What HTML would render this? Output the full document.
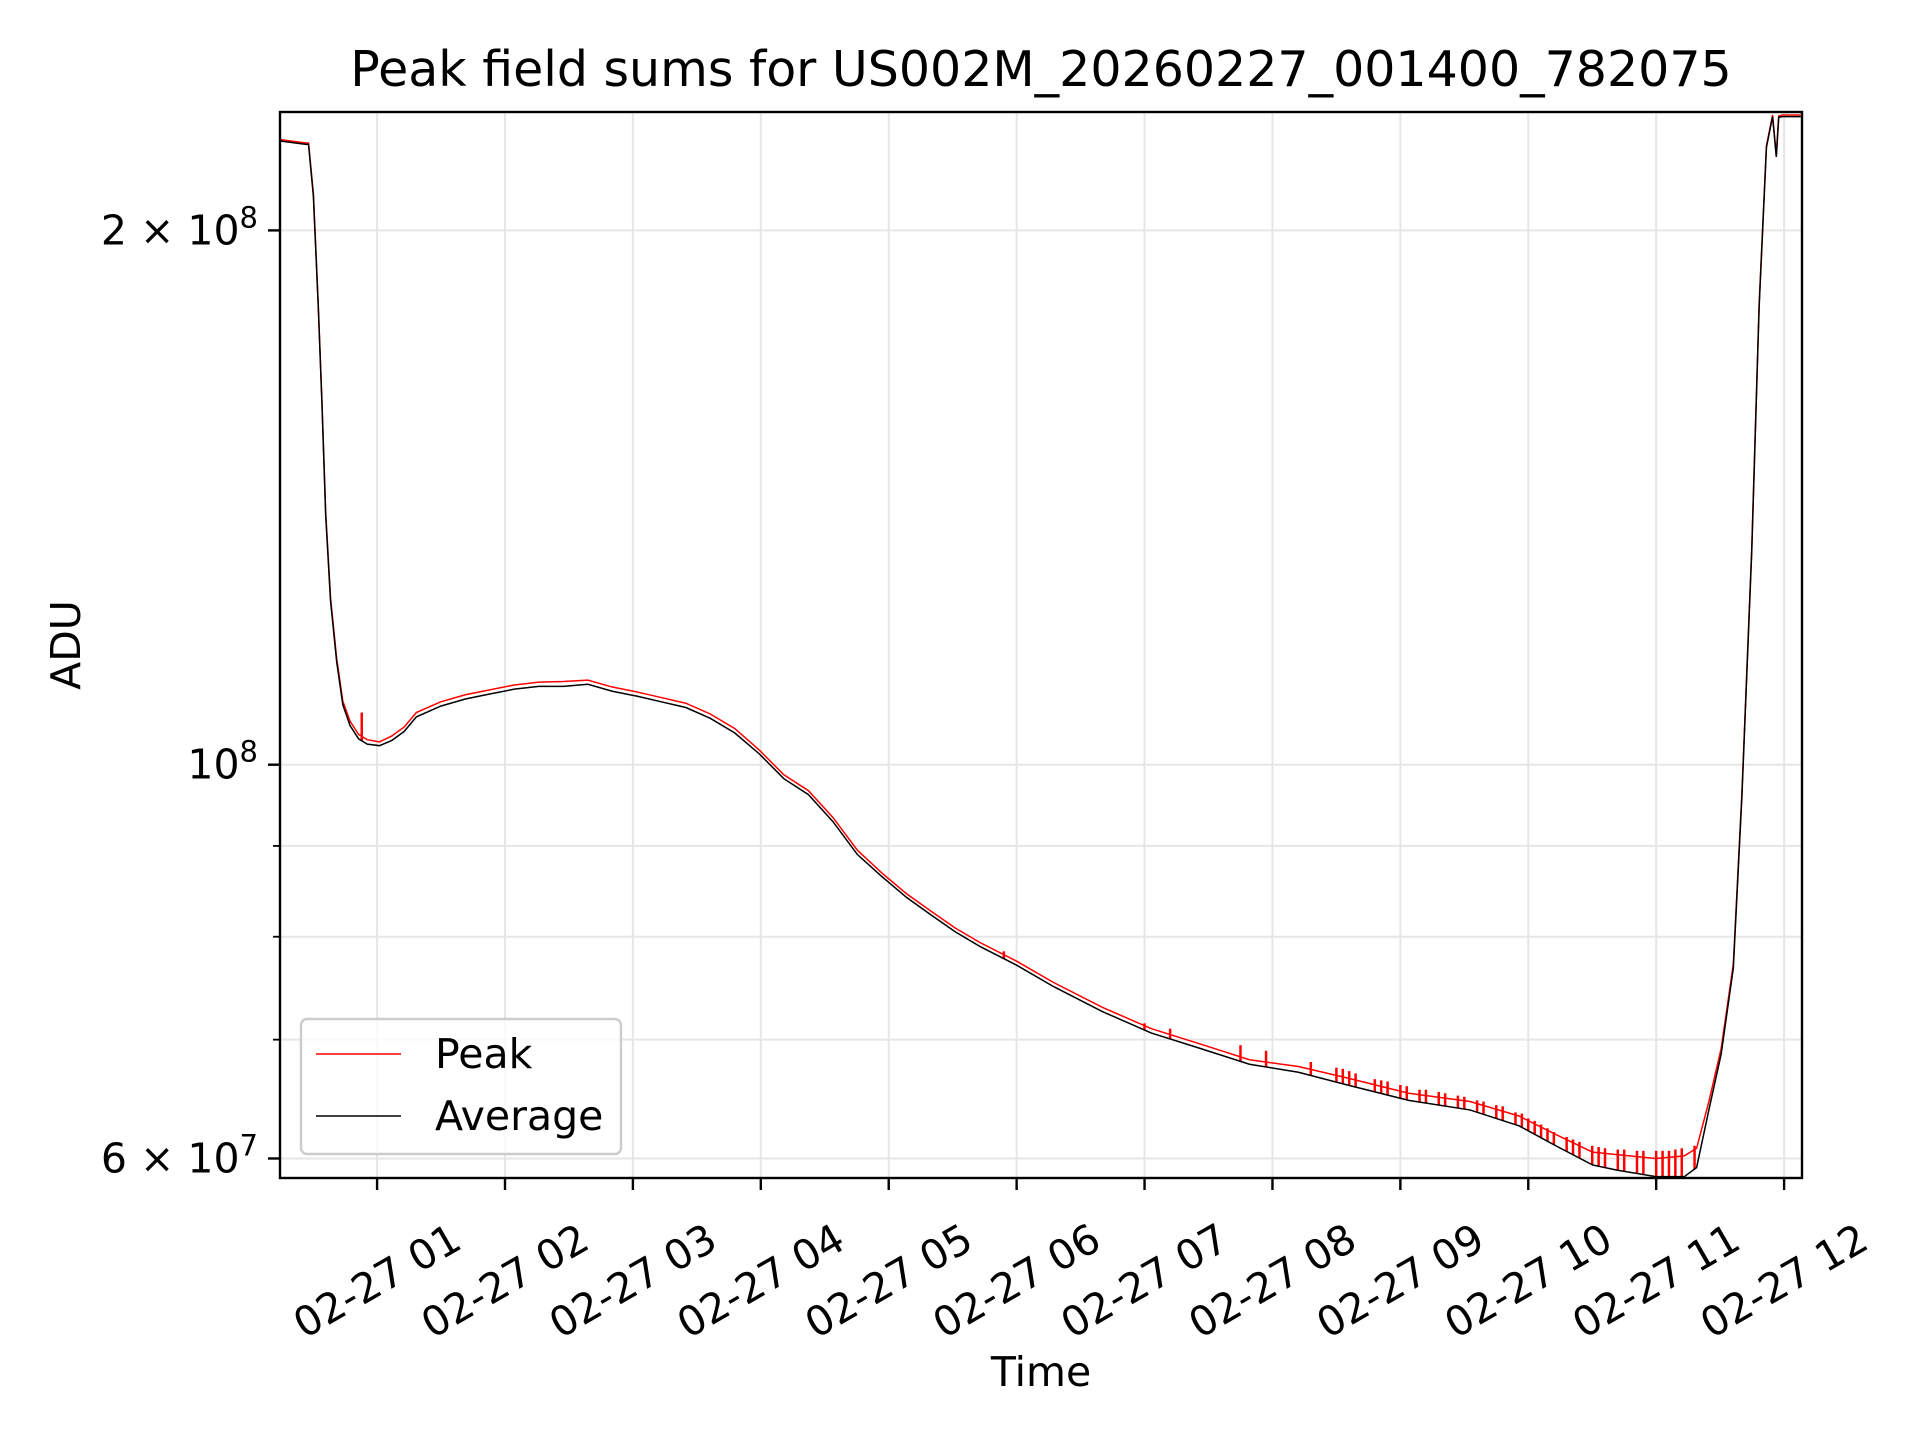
<!DOCTYPE html>
<html><head><meta charset="utf-8"><style>
html,body{margin:0;padding:0;background:#fff}
svg{display:block}
text{font-family:"DejaVu Sans","Liberation Sans",sans-serif;fill:#000}
</style></head><body>
<svg id="chart" width="1920" height="1440" viewBox="0 0 1920 1440">
<rect x="0" y="0" width="1920" height="1440" fill="#fff"/>
<text x="1041" y="86" font-size="49" text-anchor="middle">Peak field sums for US002M_20260227_001400_782075</text>
<g id="grid"></g>
<g id="series"></g>
<rect x="280" y="112" width="1522" height="1066" fill="none" stroke="#000" stroke-width="2.4"/>
<g id="axes"></g>
<text transform="translate(80,645) rotate(-90)" font-size="41" text-anchor="middle">ADU</text>
<text x="1041" y="1386" font-size="41" text-anchor="middle">Time</text>
<g>
<rect x="301" y="1019" width="320" height="135" rx="6" fill="#fff" fill-opacity="0.8" stroke="#ccc" stroke-width="2.4"/>
<line x1="316" y1="1054" x2="401" y2="1054" stroke="#f00" stroke-width="1.5"/>
<text x="435" y="1068" font-size="41">Peak</text>
<line x1="316" y1="1116" x2="401" y2="1116" stroke="#000" stroke-width="1.5"/>
<text x="435" y="1130" font-size="41">Average</text>
</g>
</svg>
<script>
// data (time in hours after 02-27 00:00, ADU in millions)
const times = [0.243,0.444,0.464,0.502,0.540,0.569,0.598,0.636,0.684,0.732,0.789,0.856,0.923,1.019,1.115,1.211,1.307,1.498,1.690,1.881,2.073,2.264,2.456,2.648,2.839,3.031,3.222,3.414,3.605,3.797,3.989,4.180,4.372,4.563,4.755,4.946,5.138,5.330,5.521,5.713,6.000,6.287,6.670,7.054,7.437,7.820,8.203,8.586,9.065,9.544,9.927,10.215,10.502,10.693,11.000,11.220,11.316,11.412,11.508,11.603,11.670,11.747,11.805,11.862,11.910,11.939,11.958,11.987,12.130];
const averageValues = [224.6,223.6,223.6,209.1,181.2,159.7,138.3,123.7,114.3,108.1,105.2,103.4,102.7,102.5,103.2,104.4,106.4,107.9,108.9,109.6,110.3,110.7,110.7,111.0,110.0,109.3,108.5,107.7,106.2,104.2,101.4,98.2,96.2,92.9,89.0,86.5,84.2,82.3,80.5,79.0,77.1,75.0,72.6,70.6,69.2,67.8,67.1,66.0,64.7,63.9,62.6,61.0,59.5,59.1,58.6,58.6,59.3,63.9,68.7,76.8,95.9,131.8,181.2,222.8,231.8,220.0,231.6,231.8,231.8];
const peakValues = [225.0,224.0,224.0,209.8,181.8,160.2,138.8,124.2,114.8,108.6,105.8,104.0,103.3,103.0,103.8,105.0,107.0,108.5,109.5,110.2,110.9,111.3,111.4,111.6,110.6,109.9,109.1,108.3,106.8,104.8,101.9,98.7,96.7,93.4,89.5,86.9,84.6,82.7,80.9,79.4,77.5,75.4,73.0,71.0,69.6,68.2,67.6,66.6,65.3,64.6,63.4,61.9,60.5,60.3,60.0,60.2,60.8,64.6,69.2,77.2,96.3,132.4,181.8,223.2,232.3,220.5,232.0,232.3,232.3];
const spikeTimes = [0.88,5.9,7.0,7.2,7.75,7.95,8.3,8.5,8.55,8.6,8.65,8.8,8.85,8.9,9.0,9.05,9.15,9.2,9.3,9.35,9.45,9.5,9.6,9.65,9.75,9.8,9.9,9.95,10.0,10.05,10.1,10.15,10.2,10.3,10.35,10.4,10.5,10.55,10.6,10.7,10.75,10.85,10.9,11.0,11.05,11.1,11.15,11.2,11.3];
const spikeValues = [107.0,78.5,71.5,71.0,69.5,69.0,68.0,67.5,67.4,67.2,67.0,66.5,66.4,66.3,66.0,65.9,65.6,65.6,65.4,65.3,65.1,65.0,64.7,64.6,64.3,64.2,63.7,63.6,63.2,63.0,62.7,62.4,62.1,61.7,61.5,61.3,61.0,60.9,60.8,60.7,60.7,60.6,60.6,60.6,60.6,60.6,60.7,60.8,61.0];
const xTickHours = [1,2,3,4,5,6,7,8,9,10,11,12];
const xTickLabels = ["02-27 01","02-27 02","02-27 03","02-27 04","02-27 05","02-27 06","02-27 07","02-27 08","02-27 09","02-27 10","02-27 11","02-27 12"];
const yMajorTicks = [200,100,60];
const yMajorLabels = ["2 × 10^8","10^8","6 × 10^7"];
const yMinorTicks = [70,80,90];

const NS="http://www.w3.org/2000/svg";
const L=280,R=1802,T=112,B=1178;
const xMin=0.241,xMax=12.14;
const yMin=58.5,yMax=233.2;
function xs(h){return L+(h-xMin)/(xMax-xMin)*(R-L);}
function ys(v){return B-(Math.log10(v)-Math.log10(yMin))/(Math.log10(yMax)-Math.log10(yMin))*(B-T);}
function mk(tag,attrs,parent){const e=document.createElementNS(NS,tag);for(const k in attrs)e.setAttribute(k,attrs[k]);parent.appendChild(e);return e;}
const grid=document.getElementById('grid'),axes=document.getElementById('axes'),series=document.getElementById('series');

xTickHours.forEach((h,i)=>{
  const x=xs(h);
  const g=mk('line',{x1:x,x2:x,y1:T,y2:B,stroke:'#e6e6e6','stroke-width':2},grid);
  
  
  const t=mk('line',{x1:x,x2:x,y1:B,y2:B+12,stroke:'#000','stroke-width':2.4},axes);
  
  
  const lb=mk('text',{x:0,y:0,'font-size':41,'text-anchor':'middle','dominant-baseline':'central',transform:`translate(${x},${1281}) rotate(-30)`},axes);
  lb.textContent=xTickLabels[i];
  
  
});
yMajorTicks.concat(yMinorTicks).forEach(v=>{
  const y=ys(v);
  const g=mk('line',{x1:L,x2:R,y1:y,y2:y,stroke:'#e6e6e6','stroke-width':2},grid);
  
  
});
yMajorTicks.forEach((v,i)=>{
  const y=ys(v);
  const t=mk('line',{x1:L-12,x2:L,y1:y,y2:y,stroke:'#000','stroke-width':2.4},axes);
  
  
  const parts=yMajorLabels[i].split('^');
  const lb=mk('text',{x:L-22,y:y+14,'font-size':41,'text-anchor':'end'},axes);
  lb.textContent=parts[0];
  const sup=mk('tspan',{dy:-17,'font-size':29},lb);
  sup.textContent=parts[1];
  
  
});
yMinorTicks.forEach(v=>{
  const y=ys(v);
  const t=mk('line',{x1:L-7,x2:L,y1:y,y2:y,stroke:'#000','stroke-width':1.8},axes);
  
  
});

function interpAvg(h){
  for(let i=0;i<times.length-1;i++){if(h>=times[i]&&h<=times[i+1]){const f=(h-times[i])/(times[i+1]-times[i]);return Math.exp(Math.log(averageValues[i])*(1-f)+Math.log(averageValues[i+1])*f);}}
  return averageValues[averageValues.length-1];
}
const clip=mk('clipPath',{id:'pc'},series);
mk('rect',{x:L,y:T,width:R-L,height:B-T},clip);
const peak=mk('polyline',{points:times.map((h,i)=>xs(h)+','+ys(peakValues[i])).join(' '),fill:'none',stroke:'#f00','stroke-width':1.5,'clip-path':'url(#pc)'},series);


spikeTimes.forEach((h,i)=>{
  const x=xs(h);
  const s=mk('line',{x1:x,x2:x,y1:ys(interpAvg(h)),y2:ys(spikeValues[i]),stroke:'#f00','stroke-width':2.5,'clip-path':'url(#pc)'},series);
  
  
});
const avg=mk('polyline',{points:times.map((h,i)=>xs(h)+','+ys(averageValues[i])).join(' '),fill:'none',stroke:'#000','stroke-width':1.5,'clip-path':'url(#pc)'},series);


</script>
</body></html>
